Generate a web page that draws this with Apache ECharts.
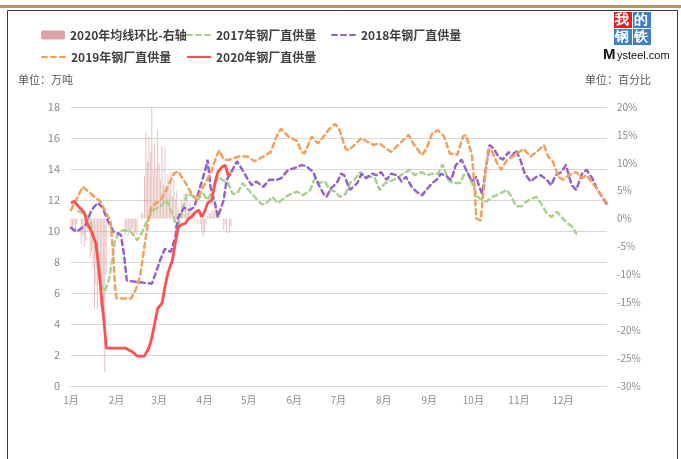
<!DOCTYPE html>
<html>
<head>
<meta charset="utf-8">
<script src="https://cdn.jsdelivr.net/npm/echarts@6/dist/echarts.min.js"></script>
<style>
  html, body { margin: 0; padding: 0; background: #fff; }
  #main { width: 681px; height: 459px; }
</style>
</head>
<body>
<div id="main"></div>
<script>
// 横轴: 按日的类目 (2020 闰年), 只在每月1日显示标签
const monthLens = [31, 29, 31, 30, 31, 30, 31, 31, 30, 31, 30, 31];
const dayCats = [];
monthLens.forEach((len, m) => {
  for (let d = 1; d <= len; d++) dayCats.push((m + 1) + '-' + d);
});

// 左轴刻度 / 右轴刻度
const leftTicks = { min: 0, max: 18, interval: 2 };
const rightTicks = { min: -30, max: 20, interval: 5 };

// 2020年均线环比 (右轴, %), 从1月1日起按日
const bar2020 = [
  -1.5, -2.3, -1.2, -2.0, -1.0, null, null, -4.5, -3.0, -5.0,
  -4.0, -2.5, null, -7.0, -6.0, -9.0, -16.0, -12.0, -16.3, -10.0,
  -16.0, -13.0, -16.0, -27.5, -10.0, null, null, null, null, null,
  null, null, null, null, null, null, null, -3.0, -2.0, -3.2,
  -2.5, -3.0, -1.8, -3.2, -2.5, -3.0, null, null, 1.0, 0.8,
  7.6, 15.4, 10.3, 14.7, 11.8, 20.1, 8.8, 13.6, 9.0, 16.0,
  9.9, 7.0, 13.0, 6.0, 12.7, 5.8, 8.0, 4.5, 8.5, 4.0,
  7.0, 3.5, 5.0, 2.0, 1.0, 3.5, 2.5, 4.6, 2.0, 4.0,
  1.5, 3.0, 1.0, 0.5, -0.5, null, -1.0, null, -1.0, -2.0,
  -3.2, -2.5, -1.0, 0.5, 1.0, 0.8, 1.5, 1.0, 2.0, 2.2,
  1.5, 0.5, null, null, -2.0, -1.0, -2.6, null, -2.6, -1.5
];

// 2017年钢厂直供量 (万吨)
const days2017 = [5, 12, 15, 18, 21, 23, 26, 28, 30, 33, 36, 41, 45, 48, 52, 56, 61, 65, 70, 72,
  76, 79, 82, 86, 90, 93, 97, 100, 103, 107, 110, 113, 117, 120, 125, 130, 133, 137, 141, 146,
  150, 154, 158, 163, 166, 169, 173, 176, 180, 183, 187, 190, 193, 197, 200, 204, 207, 210, 214, 217,
  222, 226, 231, 234, 239, 242, 247, 250, 253, 257, 260, 265, 268, 270, 273, 275, 277, 280, 283, 287,
  292, 297, 300, 303, 307, 310, 314, 317, 320, 324, 327, 331, 334, 338, 341, 344];
const vals2017 = [11.3, 10.9, 10.0, 8.4, 6.4, 6.1, 6.9, 8.1, 9.4, 9.95, 10.05, 9.95, 9.4, 9.85, 10.7, 11.35, 11.6, 12.0, 10.9, 10.05,
  11.35, 12.4, 12.3, 12.0, 12.4, 12.0, 12.65, 13.5, 13.3, 13.1, 12.4, 12.4, 13.1, 12.75, 12.2, 11.7, 11.8, 12.2, 11.8, 12.2,
  12.4, 12.55, 12.3, 12.65, 13.4, 13.1, 13.2, 12.65, 12.55, 12.2, 12.4, 13.1, 13.3, 13.8, 13.5, 13.5, 13.4, 12.65, 13.1, 13.2,
  13.4, 13.7, 13.95, 13.6, 13.8, 13.6, 13.7, 13.7, 14.3, 13.3, 13.1, 13.1, 13.7, 13.8, 13.1, 12.65, 12.2, 12.0, 11.9, 12.2,
  12.4, 12.65, 12.2, 11.6, 11.6, 11.9, 12.1, 12.2, 11.8, 11.15, 10.9, 11.25, 10.9, 10.5, 10.3, 9.85];

// 2018年钢厂直供量
const days2018 = [0, 4, 10, 14, 18, 21, 26, 29, 34, 36, 38, 46, 55, 57, 61, 64, 68, 71, 73, 77,
  81, 84, 88, 92, 93, 95, 98, 100, 104, 106, 110, 113, 116, 120, 123, 126, 131, 135, 140, 143,
  148, 152, 157, 160, 165, 168, 172, 174, 177, 181, 184, 186, 190, 195, 198, 201, 205, 208, 211, 215,
  218, 222, 225, 228, 232, 235, 239, 242, 246, 249, 252, 256, 259, 262, 266, 269, 273, 276, 278, 280,
  282, 285, 288, 291, 294, 298, 300, 303, 306, 309, 313, 317, 320, 324, 327, 330, 334, 337, 341, 344,
  348, 351, 355, 358, 361, 365];
const vals2018 = [10.2, 9.95, 10.4, 11.35, 11.8, 11.6, 10.5, 9.95, 9.75, 8.55, 6.8, 6.7, 6.6, 7.1, 8.2, 8.85, 8.65, 9.6, 10.9, 11.5,
  11.35, 11.55, 12.85, 14.15, 14.6, 12.85, 11.8, 10.9, 12.0, 13.3, 13.95, 14.5, 14.05, 13.4, 12.95, 13.2, 12.85, 13.3, 13.3, 13.4,
  13.95, 14.05, 14.25, 14.2, 13.8, 13.1, 12.4, 12.2, 12.75, 13.1, 13.7, 13.6, 12.65, 13.1, 13.7, 13.4, 13.7, 13.6, 13.8, 13.3,
  13.7, 13.6, 13.2, 13.5, 12.85, 12.55, 12.3, 12.65, 13.1, 13.3, 13.7, 13.5, 13.3, 14.25, 14.6, 13.95, 13.2, 13.5, 12.85, 12.4,
  13.7, 15.55, 15.3, 14.8, 14.6, 15.1, 14.8, 15.2, 14.6, 13.7, 13.2, 13.5, 13.6, 13.3, 12.95, 13.6, 13.8, 14.25, 12.95, 12.65,
  13.7, 13.95, 13.4, 12.75, 12.3, 11.7];

// 2019年钢厂直供量
const days2019 = [0, 8, 13, 20, 27, 29, 30, 31, 41, 44, 47, 50, 53, 55, 61, 65, 70, 73, 78, 82,
  86, 90, 95, 99, 101, 104, 108, 114, 120, 125, 131, 136, 140, 143, 148, 154, 157, 159, 164, 168,
  172, 176, 180, 183, 187, 189, 193, 198, 201, 206, 210, 215, 218, 224, 230, 233, 239, 242, 246, 250,
  254, 258, 263, 267, 269, 273, 275, 276, 279, 281, 284, 286, 290, 293, 297, 301, 308, 313, 317, 322,
  325, 328, 332, 335, 339, 344, 348, 351, 355, 358, 361, 365];
const vals2019 = [11.35, 12.85, 12.45, 11.9, 10.6, 8.1, 6.4, 5.65, 5.65, 6.2, 7.05, 9.0, 10.9, 11.6, 12.0, 12.65, 13.7, 13.85, 13.1, 12.4,
  12.0, 12.85, 13.7, 14.8, 15.2, 14.6, 14.6, 14.8, 14.8, 14.5, 14.8, 15.1, 16.1, 16.6, 16.1, 15.8, 15.1, 15.0, 16.1, 15.65,
  16.1, 16.6, 16.9, 16.5, 15.3, 15.2, 15.55, 16.0, 15.8, 15.55, 15.65, 15.3, 15.1, 15.65, 16.2, 15.65, 14.9, 15.3, 16.3, 16.5,
  16.1, 15.0, 14.9, 16.1, 16.2, 14.9, 12.65, 10.8, 10.7, 12.65, 15.2, 15.3, 14.4, 13.95, 14.6, 14.8, 15.3, 14.8, 15.1, 15.55,
  14.8, 14.5, 13.5, 13.3, 13.6, 13.8, 13.4, 13.6, 13.1, 12.75, 12.3, 11.8];

// 2020年钢厂直供量
const days2020 = [0, 2, 5, 9, 11, 14, 17, 19, 21, 23, 24, 37, 42, 45, 50, 53, 55, 57, 59, 62,
  64, 66, 69, 71, 73, 75, 78, 80, 82, 84, 87, 89, 91, 93, 96, 98, 100, 103, 105, 107, 109];
const vals2020 = [11.8, 11.9, 11.6, 11.2, 10.5, 9.95, 9.2, 7.5, 5.5, 3.6, 2.45, 2.45, 2.2, 1.93, 1.93, 2.45, 3.1, 4.05, 5.0, 5.35,
  6.4, 7.3, 8.1, 9.2, 10.2, 10.4, 10.5, 10.8, 10.9, 11.15, 11.35, 10.9, 11.25, 11.8, 12.0, 13.1, 13.8, 14.15, 14.25, 13.6, 13.7];

const pairs = (ds, vs) => ds.map((d, i) => [d, vs[i]]);

const lineNames = ['2017年钢厂直供量', '2018年钢厂直供量', '2019年钢厂直供量', '2020年钢厂直供量'];
const barName = '2020年均线环比-右轴';

const dashLine = (name, color, data) => ({
  name: name,
  type: 'line',
  data: data,
  showSymbol: false,
  symbol: 'none',
  lineStyle: { color: color, width: 2.5, type: [5, 4], cap: 'round' },
  itemStyle: { color: color },
  z: 3
});

const legendFont = { fontSize: 12, color: '#404040', fontFamily: 'Noto Sans CJK SC', fontWeight: 'bold' };
const mkLegend = (name, left, top, isLine) => ({
  data: [name], left: left, top: top, itemWidth: 24, itemHeight: 9, itemGap: 4,
  itemStyle: isLine ? { opacity: 0 } : { color: '#d9a3a3', opacity: 1 },
  textStyle: legendFont, selectedMode: false
});

const getOption = () => {
  return {
    animation: false,
    textStyle: { fontFamily: 'Noto Sans CJK SC' },
    grid: { left: 71, right: 74, top: 107, bottom: 73 },
    legend: [
      mkLegend(barName, 36, 24, false),
      mkLegend(lineNames[0], 181, 24, true),
      mkLegend(lineNames[1], 326, 24, true),
      mkLegend(lineNames[2], 36, 46, true),
      mkLegend(lineNames[3], 181, 46, true)
    ],
    xAxis: {
      type: 'category',
      data: dayCats,
      boundaryGap: false,
      axisLine: { show: true, lineStyle: { color: '#d9d9d9' } },
      axisTick: { show: false },
      axisLabel: {
        interval: (idx, val) => val.split('-')[1] === '1',
        formatter: val => val.split('-')[0] + '月',
        color: '#8c8c8c', fontSize: 10, margin: 9
      }
    },
    yAxis: [
      {
        type: 'value', min: leftTicks.min, max: leftTicks.max, interval: leftTicks.interval,
        axisLine: { show: false }, axisTick: { show: false },
        axisLabel: { color: '#8c8c8c', fontSize: 11, margin: 11 },
        splitLine: { lineStyle: { color: '#d9d9d9', width: 1 } }
      },
      {
        type: 'value', min: rightTicks.min, max: rightTicks.max, interval: rightTicks.interval,
        axisLine: { show: false }, axisTick: { show: false },
        axisLabel: { color: '#8c8c8c', fontSize: 10, margin: 10, formatter: '{value}%' },
        splitLine: { show: false }
      }
    ],
    series: [
      {
        name: barName,
        type: 'bar',
        yAxisIndex: 1,
        data: bar2020,
        barWidth: 1,
        itemStyle: { color: 'rgba(214, 150, 150, 0.6)' },
        z: 1
      },
      dashLine(lineNames[0], '#a9d18e', pairs(days2017, vals2017)),
      dashLine(lineNames[1], '#9462c8', pairs(days2018, vals2018)),
      dashLine(lineNames[2], '#f2a05a', pairs(days2019, vals2019)),
      {
        name: lineNames[3],
        type: 'line',
        data: pairs(days2020, vals2020),
        showSymbol: false,
        symbol: 'none',
        lineStyle: { color: '#ff4f4f', width: 2.8 },
        itemStyle: { color: '#ff4f4f' },
        z: 4
      }
    ],
    graphic: [
      { type: 'rect', shape: { x: 0, y: 5, width: 681, height: 3 }, style: { fill: '#b8975a' } },
      { type: 'rect', shape: { x: 7.5, y: 10.5, width: 670, height: 460 }, style: { fill: 'none', stroke: '#3a3a3a', lineWidth: 1 } },
      { type: 'text', left: 18, top: 74, style: { text: '单位：万吨', fill: '#595959', fontSize: 11, fontFamily: 'Noto Sans CJK SC' } },
      { type: 'text', left: 585, top: 74, style: { text: '单位：百分比', fill: '#595959', fontSize: 11, fontFamily: 'Noto Sans CJK SC' } },
      // logo
      { type: 'rect', shape: { x: 614, y: 12, width: 18, height: 16 }, style: { fill: '#e02020' } },
      { type: 'rect', shape: { x: 633, y: 12, width: 18, height: 16 }, style: { fill: '#3f7fc8' } },
      { type: 'rect', shape: { x: 614, y: 29, width: 18, height: 16 }, style: { fill: '#3f7fc8' } },
      { type: 'rect', shape: { x: 633, y: 29, width: 18, height: 16 }, style: { fill: '#3f7fc8' } },
      { type: 'text', x: 615, y: 13, style: { text: '我', fill: '#fff', fontSize: 14, fontWeight: 'bold' } },
      { type: 'text', x: 634, y: 13, style: { text: '的', fill: '#fff', fontSize: 14, fontWeight: 'bold' } },
      { type: 'text', x: 615, y: 30, style: { text: '钢', fill: '#fff', fontSize: 14, fontWeight: 'bold' } },
      { type: 'text', x: 634, y: 30, style: { text: '铁', fill: '#fff', fontSize: 14, fontWeight: 'bold' } },
      { type: 'text', x: 603, y: 47, style: { text: 'M', fill: '#111', fontSize: 15, fontWeight: 'bold', fontFamily: 'Arial' } },
      { type: 'text', x: 617, y: 50, style: { text: 'ysteel.com', fill: '#111', fontSize: 11, fontFamily: 'Arial' } }
    ]
  };
};

const iniciarChart = () => {
  const chart = echarts.init(document.getElementById('main'));
  chart.setOption(getOption());
};

window.addEventListener('load', () => {
  iniciarChart();
});
</script>
</body>
</html>
